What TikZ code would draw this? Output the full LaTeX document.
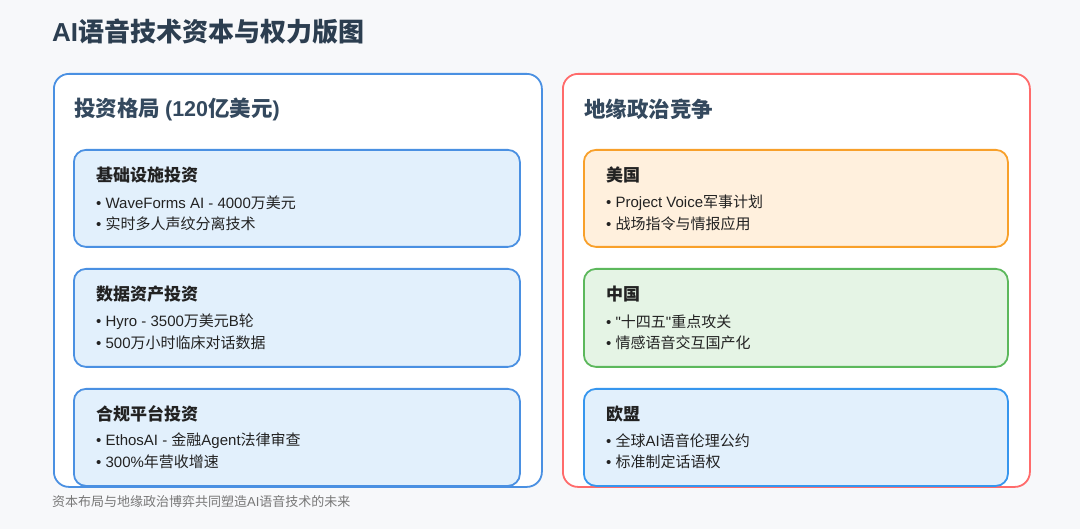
\documentclass[tikz,border=0pt]{standalone}
\usepackage{fontspec}
\setmainfont{Noto Sans CJK SC}
\newfontfamily\lat{Liberation Sans}
\newcommand\bul{{\lat •\ }}
\newcommand\q{{\lat "}}
\definecolor{bgc}{HTML}{F7F8FA}
\definecolor{titlec}{HTML}{2C3E50}
\definecolor{headc}{HTML}{34495E}
\definecolor{blueline}{HTML}{4A90E2}
\definecolor{bluefill}{HTML}{E2F0FC}
\definecolor{blueline2}{HTML}{3696EE}
\definecolor{redline}{HTML}{FF6B6B}
\definecolor{orangeline}{HTML}{F8A02A}
\definecolor{orangefill}{HTML}{FFF0DD}
\definecolor{greenline}{HTML}{5CB85C}
\definecolor{greenfill}{HTML}{E5F4E5}
\definecolor{textc}{HTML}{222222}
\definecolor{footc}{HTML}{777777}
\tikzset{
  panel/.style={draw, line width=1.8pt, fill=white, rounded corners=15pt, anchor=north west, inner sep=0pt},
  card/.style={draw, line width=1.8pt, rounded corners=12pt, anchor=north west, inner sep=0pt},
  maintitle/.style={anchor=west, inner sep=0pt, text=titlec, font=\fontsize{26}{30}\selectfont\bfseries},
  header/.style={anchor=west, inner sep=0pt, text=headc, font=\fontsize{21.5}{25}\selectfont\bfseries},
  cardtitle/.style={anchor=west, inner sep=0pt, text=textc, font=\fontsize{17}{20}\selectfont\bfseries},
  item/.style={anchor=west, inner sep=0pt, text=textc, font=\fontsize{15}{18}\selectfont},
  foot/.style={anchor=west, inner sep=0pt, text=footc, font=\fontsize{13}{15}\selectfont},
}
\begin{document}
\begin{tikzpicture}[x=1pt,y=-1pt]
\useasboundingbox (0,0) rectangle (1080,529);
\fill[bgc] (0,0) rectangle (1080,529);
\node[maintitle] (title) at (52,32) {{\lat AI}语音技术资本与权力版图};
% left panel
\node[panel, draw=blueline, minimum width=488pt, minimum height=413pt] (leftp) at (53,73) {};
\node[header] (lefth) at (74,109) {投资格局 {\lat (120}亿美元{\lat )}};
\node[card, draw=blueline, fill=bluefill, minimum width=446pt, minimum height=97pt] (l1) at (73,149) {};
\node[cardtitle] (l1t) at (96,175) {基础设施投资};
\node[item] (l1a) at (96,203) {\bul{\lat WaveForms AI - 4000}万美元};
\node[item] (l1b) at (96,224) {\bul 实时多人声纹分离技术};
\node[card, draw=blueline, fill=bluefill, minimum width=446pt, minimum height=98pt] (l2) at (73,268) {};
\node[cardtitle] (l2t) at (96,294) {数据资产投资};
\node[item] (l2a) at (96,322) {\bul{\lat Hyro - 3500}万美元{\lat B}轮};
\node[item] (l2b) at (96,343) {\bul{\lat 500}万小时临床对话数据};
\node[card, draw=blueline, fill=bluefill, minimum width=446pt, minimum height=97pt] (l3) at (73,388) {};
\node[cardtitle] (l3t) at (96,414) {合规平台投资};
\node[item] (l3a) at (96,441) {\bul{\lat EthosAI - }金融{\lat Agent}法律审查};
\node[item] (l3b) at (96,462) {\bul{\lat 300\%}年营收增速};
% right panel
\node[panel, draw=redline, minimum width=467pt, minimum height=413pt] (rightp) at (562,73) {};
\node[header] (righth) at (584,109) {地缘政治竞争};
\node[card, draw=orangeline, fill=orangefill, minimum width=424pt, minimum height=97pt] (r1) at (583,149) {};
\node[cardtitle] (r1t) at (606,175) {美国};
\node[item] (r1a) at (606,203) {\bul{\lat Project Voice}军事计划};
\node[item] (r1b) at (606,224) {\bul 战场指令与情报应用};
\node[card, draw=greenline, fill=greenfill, minimum width=424pt, minimum height=98pt] (r2) at (583,268) {};
\node[cardtitle] (r2t) at (606,294) {中国};
\node[item] (r2a) at (606,322) {\bul\q 十四五\q 重点攻关};
\node[item] (r2b) at (606,343) {\bul 情感语音交互国产化};
\node[card, draw=blueline2, fill=bluefill, minimum width=424pt, minimum height=97pt] (r3) at (583,388) {};
\node[cardtitle] (r3t) at (606,414) {欧盟};
\node[item] (r3a) at (606,441) {\bul 全球{\lat AI}语音伦理公约};
\node[item] (r3b) at (606,462) {\bul 标准制定话语权};
\node[foot] (footer) at (52,502) {资本布局与地缘政治博弈共同塑造{\lat AI}语音技术的未来};
\end{tikzpicture}
\end{document}
